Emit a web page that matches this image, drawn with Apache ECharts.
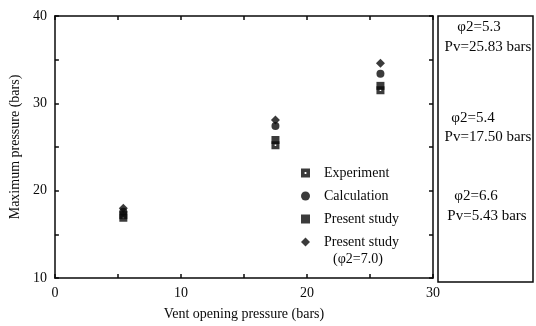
<!DOCTYPE html>
<html>
<head>
<meta charset="utf-8">
<script src="https://cdn.jsdelivr.net/npm/echarts@6/dist/echarts.min.js"></script>
<style>
  html, body { margin: 0; padding: 0; background: #fff; }
  #chart { width: 536px; height: 326px; }
</style>
</head>
<body>
<div id="chart"></div>
<script>
// Vent opening pressures (bars) for the three cases
const ventPressure = [5.43, 17.50, 25.83];

// Maximum pressure (bars) per method at each vent opening pressure
const experiment = [16.9, 25.2, 31.5];
const calculation = [17.6, 27.4, 33.4];
const presentStudy = [17.2, 25.8, 32.0];
const presentStudyPhi7 = [18.0, 28.1, 34.6];

// Case annotations in the side panel
const caseLabels = [
  ['φ2=5.3', 'Pv=25.83 bars'],
  ['φ2=5.4', 'Pv=17.50 bars'],
  ['φ2=6.6', 'Pv=5.43 bars']
];

const xTicks = [0, 10, 20, 30];
const yTicks = [10, 20, 30, 40];

const FONT = '"Liberation Serif", "DejaVu Serif", serif';
const INK = '#0a0a0a';

// square with a small hole in the middle (outer clockwise, inner counter-clockwise)
const holedSquare = 'path://M0,0H10V10H0Z M4,4V6H6V4Z';

function pairs(ys) {
  return ventPressure.map((x, i) => [x, ys[i]]);
}

const chart = echarts.init(document.getElementById('chart'), null, { renderer: 'canvas' });

const axisCommon = {
  axisLine: { show: true, onZero: false, lineStyle: { color: INK, width: 1.5 } },
  axisTick: { show: true, inside: true, length: 4, lineStyle: { color: INK, width: 1.5 } },
  minorTick: { show: true, splitNumber: 2, length: 4, lineStyle: { color: INK, width: 1.5 } },
  splitLine: { show: false }
};

const mainX = Object.assign({}, axisCommon, {
  type: 'value', gridIndex: 0, min: xTicks[0], max: xTicks[xTicks.length - 1], interval: 10
});
const mainY = Object.assign({}, axisCommon, {
  type: 'value', gridIndex: 0, min: yTicks[0], max: yTicks[yTicks.length - 1], interval: 10
});

// side panel text, centred on each anchor
const panelTexts = [];
const panelY = [[27, 47], [118, 137], [196, 216]];
const panelX = [[479, 488], [473, 488], [476, 487]];
caseLabels.forEach((lines, i) => {
  lines.forEach((t, j) => {
    panelTexts.push({
      type: 'text', x: panelX[i][j], y: panelY[i][j],
      style: { text: t, font: '15px ' + FONT, fill: INK, align: 'center', verticalAlign: 'middle' }
    });
  });
});

chart.setOption({
  animation: false,
  backgroundColor: '#fff',
  grid: [
    { left: 53, right: 103, top: 16, bottom: 44, show: false },
    { left: 438, right: 3, top: 16, bottom: 44, show: true, borderColor: INK, borderWidth: 1.5, backgroundColor: '#fff' }
  ],
  xAxis: [
    Object.assign({}, mainX, {
      position: 'bottom',
      axisLabel: { show: true, margin: 8, color: INK, fontFamily: FONT, fontSize: 14 },
      name: 'Vent opening pressure (bars)', nameLocation: 'middle', nameGap: 29,
      nameTextStyle: { color: INK, fontFamily: FONT, fontSize: 14 }
    }),
    Object.assign({}, mainX, { position: 'top', axisLabel: { show: false } }),
    { type: 'value', gridIndex: 1, show: false, min: 0, max: 1 }
  ],
  yAxis: [
    Object.assign({}, mainY, {
      position: 'left',
      axisLabel: { show: true, margin: 8, color: INK, fontFamily: FONT, fontSize: 14 },
      name: 'Maximum pressure (bars)', nameLocation: 'middle', nameGap: 29,
      nameTextStyle: { color: INK, fontFamily: FONT, fontSize: 14 }
    }),
    Object.assign({}, mainY, { position: 'right', axisLabel: { show: false } }),
    { type: 'value', gridIndex: 1, show: false, min: 0, max: 1 }
  ],
  legend: {
    orient: 'vertical',
    left: 296, top: 161,
    itemWidth: 9, itemHeight: 9, itemGap: 9,
    textStyle: { color: INK, fontFamily: FONT, fontSize: 14, padding: [0, 0, 0, 9] },
    data: [
      { name: 'Experiment', icon: holedSquare },
      { name: 'Calculation', icon: 'circle' },
      { name: 'Present study', icon: 'rect' },
      { name: 'Present study ', icon: 'diamond' }
    ]
  },
  graphic: panelTexts.concat([
    {
      type: 'text', x: 333, y: 259,
      style: { text: '(φ2=7.0)', font: '14px ' + FONT, fill: INK, verticalAlign: 'middle' }
    }
  ]),
  series: [
    {
      name: 'Experiment', type: 'scatter', xAxisIndex: 0, yAxisIndex: 0,
      symbol: holedSquare, symbolSize: 8, itemStyle: { color: INK },
      data: pairs(experiment)
    },
    {
      name: 'Calculation', type: 'scatter', xAxisIndex: 0, yAxisIndex: 0,
      symbol: 'circle', symbolSize: 8, itemStyle: { color: INK },
      data: pairs(calculation)
    },
    {
      name: 'Present study', type: 'scatter', xAxisIndex: 0, yAxisIndex: 0,
      symbol: 'rect', symbolSize: 8, itemStyle: { color: INK },
      data: pairs(presentStudy)
    },
    {
      name: 'Present study ', type: 'scatter', xAxisIndex: 0, yAxisIndex: 0,
      symbol: 'diamond', symbolSize: 9, itemStyle: { color: INK },
      data: pairs(presentStudyPhi7)
    }
  ]
});
</script>
</body>
</html>
